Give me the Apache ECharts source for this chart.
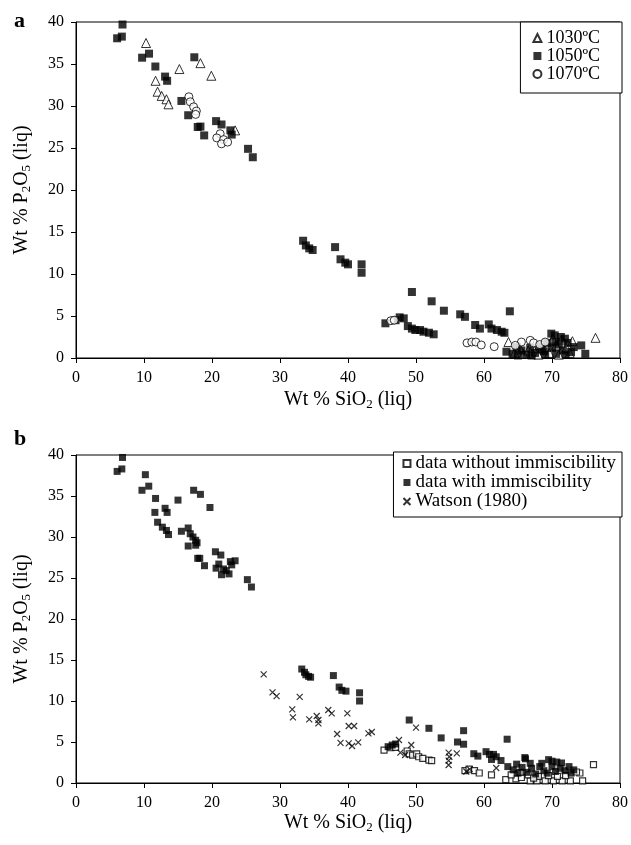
<!DOCTYPE html>
<html>
<head>
<meta charset="utf-8">
<script src="https://cdn.jsdelivr.net/npm/echarts@6/dist/echarts.min.js"></script>
<style>
  html, body { margin: 0; padding: 0; background: #fff; }
  #chart-container { width: 631px; height: 845px; }
</style>
</head>
<body>
<div id="chart-container"></div>
<script>
let dom = document.getElementById("chart-container");
let myChart = echarts.init(dom, null, { renderer: "canvas" });

// Panel a: [SiO2, P2O5] per temperature
const a1030 = [
  [10.3, 37.5], [15.2, 34.4], [18.3, 35.1], [19.9, 33.6], [11.7, 33.0], [12.0, 31.7],
  [12.6, 31.2], [13.3, 30.8], [13.6, 30.2], [23.4, 27.1], [63.6, 1.9], [76.4, 2.4],
  [64.5, 0.6], [65.8, 0.5], [66.5, 0.9], [68.0, 0.4], [69.6, 0.6], [70.1, 2.3],
  [71.4, 2.2], [70.6, 1.5], [72.1, 1.2], [72.6, 0.6], [71.0, 0.4], [67.2, 1.2],
  [73.0, 2.0], [65.2, 1.3]
];
const a1050 = [
  [6.84, 39.7], [6.05, 38.06], [6.74, 38.26], [9.72, 35.75], [10.74, 36.23], [11.67, 34.7],
  [13.1, 33.5], [13.4, 33.0], [17.4, 35.8], [15.5, 30.6], [16.5, 28.9], [17.9, 27.5],
  [18.3, 27.55], [18.85, 26.5], [20.6, 28.2], [21.4, 27.8], [22.7, 27.1], [22.9, 26.6],
  [25.3, 24.9], [26.0, 23.9],
  [33.4, 13.96], [33.8, 13.4], [34.3, 13.05], [34.8, 12.86], [38.1, 13.2], [38.9, 11.75],
  [39.6, 11.35], [40.0, 11.15], [42.0, 11.15], [42.0, 10.15], [49.4, 7.86], [52.3, 6.75],
  [54.1, 5.63], [56.5, 5.2], [45.5, 4.13], [47.0, 4.5], [47.6, 4.84], [48.2, 4.72],
  [48.8, 3.8], [49.4, 3.5], [49.9, 3.33], [50.6, 3.33], [51.1, 3.13], [51.9, 3.01],
  [52.6, 2.82], [57.2, 4.9], [58.7, 3.93], [59.4, 3.5], [60.7, 4.0], [61.1, 3.5],
  [61.9, 3.33], [62.6, 3.13], [63.0, 3.0], [63.8, 5.56],
  [63.3, 0.75], [64.2, 0.5], [64.8, 1.3], [65.5, 0.9], [66.2, 0.4], [66.8, 1.2],
  [67.5, 0.6], [68.1, 1.4], [68.8, 0.8], [69.3, 1.8], [69.9, 2.9], [70.4, 2.7],
  [70.0, 1.2], [70.6, 0.5], [71.0, 1.6], [71.3, 2.5], [71.9, 2.3], [71.6, 0.9],
  [72.3, 1.8], [72.8, 0.7], [73.2, 1.3], [74.3, 1.5], [74.9, 0.5], [65.0, 0.3],
  [67.0, 0.3], [69.0, 0.4], [72.0, 0.4], [68.5, 1.0], [70.5, 1.9]
];
const a1070 = [
  [16.6, 31.1], [16.8, 30.5], [17.3, 29.9], [17.7, 29.4], [17.6, 29.0], [21.2, 26.7],
  [20.7, 26.2], [21.7, 26.0], [21.4, 25.5], [22.3, 25.7], [46.3, 4.44], [46.8, 4.5],
  [57.5, 1.8], [58.2, 1.9], [58.8, 1.9], [59.6, 1.55], [61.5, 1.35], [65.5, 1.9],
  [66.8, 2.1], [67.3, 1.8], [68.2, 1.6], [64.6, 1.5], [69.0, 1.9]
];

// Panel b
const bWithout = [
  [45.3, 4.02], [46.3, 4.3], [47.0, 4.35], [48.7, 3.9], [49.0, 3.54], [49.5, 3.41],
  [50.1, 3.54], [50.4, 3.2], [51.0, 3.0], [51.9, 2.8], [52.3, 2.72], [57.2, 1.5],
  [57.8, 1.7], [58.6, 1.5], [59.3, 1.22], [61.1, 1.0], [63.2, 0.4], [64.7, 0.5],
  [65.5, 0.67], [66.8, 0.27], [67.8, 0.27], [69.0, 0.27], [70.2, 0.27], [71.5, 0.27],
  [72.7, 0.27], [74.1, 1.22], [74.5, 0.27], [76.1, 2.24], [73.6, 1.34], [64.0, 1.0],
  [65.3, 1.3], [66.5, 1.0], [68.0, 0.8], [69.5, 0.9], [70.8, 0.8], [72.0, 0.9], [67.3, 0.6]
];
const bWith = [
  [6.84, 39.7], [6.05, 38.0], [6.74, 38.3], [10.2, 37.6], [9.7, 35.7], [10.7, 36.2],
  [11.7, 34.7], [11.6, 33.0], [13.1, 33.5], [13.4, 33.0], [15.0, 34.5], [17.3, 35.7],
  [18.3, 35.2], [19.7, 33.6], [12.0, 31.8], [12.7, 31.2], [13.3, 30.8], [13.6, 30.3],
  [15.5, 30.7], [16.5, 31.1], [16.8, 30.4], [17.2, 30.0], [17.6, 29.6], [17.8, 29.3],
  [17.6, 29.0], [16.5, 28.9], [17.9, 27.4], [18.2, 27.4], [18.9, 26.5], [20.5, 28.2],
  [21.3, 27.8], [20.6, 26.2], [21.0, 26.7], [21.4, 25.4], [21.7, 26.1], [22.1, 25.9],
  [22.5, 25.5], [22.7, 27.0], [23.4, 27.1], [22.9, 26.6], [25.2, 24.8], [25.8, 23.9],
  [33.2, 13.9], [33.6, 13.5], [33.8, 13.2], [34.2, 13.0], [34.5, 12.9], [37.85, 13.1],
  [38.7, 11.7], [39.1, 11.3], [39.7, 11.2], [41.7, 11.0], [41.7, 10.0], [45.9, 4.43],
  [46.5, 4.63], [47.0, 4.76], [49.0, 7.68], [51.9, 6.67], [53.7, 5.5], [56.1, 5.0],
  [57.0, 6.38], [57.0, 4.73], [58.5, 3.57], [59.1, 3.28], [60.3, 3.82], [60.8, 3.49],
  [61.4, 3.49], [61.8, 3.2], [61.1, 2.87], [62.5, 2.74], [63.4, 5.34], [66.1, 2.95],
  [70.0, 2.66],
  [63.5, 2.0], [64.3, 1.6], [65.0, 1.2], [65.6, 1.9], [66.0, 3.1], [66.3, 1.3],
  [67.0, 1.8], [67.6, 1.1], [68.2, 2.0], [68.8, 1.5], [69.5, 2.85], [69.3, 1.2],
  [70.0, 2.0], [70.7, 2.56], [71.4, 2.44], [70.5, 1.4], [71.2, 1.8], [71.9, 1.5],
  [72.5, 2.0], [72.8, 1.2], [73.2, 1.6], [64.8, 2.3], [66.8, 2.4], [68.5, 2.4]
];
const bWatson = [
  [27.6, 13.25], [28.9, 11.06], [29.5, 10.6], [32.9, 10.5], [31.8, 8.98], [31.9, 8.0],
  [34.3, 7.76], [35.4, 8.17], [35.65, 7.68], [35.65, 7.28], [37.1, 8.9], [37.6, 8.5],
  [39.9, 8.5], [38.4, 5.97], [38.9, 4.9], [40.1, 6.95], [40.9, 6.95], [40.1, 4.84],
  [40.6, 4.51], [41.5, 4.96], [43.0, 6.06], [43.5, 6.22], [47.5, 5.24], [49.3, 4.63],
  [50.0, 6.75], [47.7, 3.7], [48.4, 3.41], [54.8, 3.7], [54.9, 3.2], [54.8, 2.72],
  [54.8, 2.2], [56.0, 3.62], [57.4, 1.4], [57.9, 1.7], [61.8, 1.83]
];

const FONT = "Liberation Serif";
const crossPath = "path://M0,0L10,10M10,0L0,10";

const subRich = {
  base: { fontFamily: FONT, fontSize: 20, color: "#000" },
  sub: { fontFamily: FONT, fontSize: 13, color: "#000", padding: [9, 0, 0, 0] }
};

function xAxisFor(gridIndex) {
  return {
    type: "value",
    gridIndex: gridIndex,
    min: 0,
    max: 80,
    interval: 10,
    name: "{base|Wt % SiO}{sub|2}{base| (liq)}",
    nameLocation: "middle",
    nameGap: gridIndex === 0 ? 31 : 29,
    nameTextStyle: { rich: subRich },
    axisLine: { lineStyle: { color: "#000", width: 1 } },
    axisTick: { length: 5, lineStyle: { color: "#000" } },
    axisLabel: { fontFamily: FONT, fontSize: 16, color: "#000", margin: 12 },
    splitLine: { show: false }
  };
}

function yAxisFor(gridIndex) {
  return {
    type: "value",
    gridIndex: gridIndex,
    min: 0,
    max: 40,
    interval: 5,
    name: "{base|Wt % P}{sub|2}{base|O}{sub|5}{base| (liq)}",
    nameLocation: "middle",
    nameGap: 43,
    nameRotate: 90,
    nameTextStyle: { rich: subRich },
    axisLine: { show: true, lineStyle: { color: "#000", width: 1 } },
    axisTick: { show: true, length: 5, lineStyle: { color: "#000" } },
    axisLabel: { fontFamily: FONT, fontSize: 16, color: "#000", margin: 12 },
    splitLine: { show: false }
  };
}

option = {
  backgroundColor: "#fff",
  animation: false,
  title: [
    { text: "a", left: 9, top: 5, textStyle: { fontFamily: FONT, fontSize: 22, fontWeight: "bold", color: "#000" } },
    { text: "b", left: 9, top: 423, textStyle: { fontFamily: FONT, fontSize: 22, fontWeight: "bold", color: "#000" } }
  ],
  grid: [
    { left: 76, top: 22, right: 9, height: 336, show: true, borderColor: "#000", borderWidth: 1, backgroundColor: "transparent" },
    { left: 76, top: 455, right: 9, height: 328, show: true, borderColor: "#000", borderWidth: 1, backgroundColor: "transparent" }
  ],
  xAxis: [xAxisFor(0), xAxisFor(1)],
  yAxis: [yAxisFor(0), yAxisFor(1)],
  legend: [
    {
      data: ["1030ºC", "1050ºC", "1070ºC"],
      orient: "vertical",
      right: 9,
      top: 22,
      padding: [7, 22, 10, 12],
      itemGap: 0,
      itemWidth: 8,
      itemHeight: 8,
      borderColor: "#000",
      borderWidth: 1,
      backgroundColor: "#fff",
      textStyle: { fontFamily: FONT, fontSize: 18, color: "#000" }
    },
    {
      data: ["data without immiscibility", "data with immiscibility", "Watson (1980)"],
      orient: "vertical",
      right: 9,
      top: 452,
      padding: [2, 6, 6, 9],
      itemGap: 0,
      itemWidth: 7,
      itemHeight: 7,
      borderColor: "#000",
      borderWidth: 1,
      backgroundColor: "#fff",
      textStyle: { fontFamily: FONT, fontSize: 19, color: "#000" }
    }
  ],
  series: [
    {
      name: "1030ºC", type: "scatter", xAxisIndex: 0, yAxisIndex: 0,
      symbol: "triangle", symbolSize: 9,
      itemStyle: { color: "#fff", borderColor: "#000", borderWidth: 1 },
      data: a1030
    },
    {
      name: "1050ºC", type: "scatter", xAxisIndex: 0, yAxisIndex: 0,
      symbol: "rect", symbolSize: 8,
      itemStyle: { color: "#000" },
      data: a1050
    },
    {
      name: "1070ºC", type: "scatter", xAxisIndex: 0, yAxisIndex: 0,
      symbol: "circle", symbolSize: 8,
      itemStyle: { color: "#fff", borderColor: "#000", borderWidth: 1 },
      data: a1070
    },
    {
      name: "data without immiscibility", type: "scatter", xAxisIndex: 1, yAxisIndex: 1,
      symbol: "rect", symbolSize: 6,
      itemStyle: { color: "#fff", borderColor: "#000", borderWidth: 1.2 },
      data: bWithout
    },
    {
      name: "data with immiscibility", type: "scatter", xAxisIndex: 1, yAxisIndex: 1,
      symbol: "rect", symbolSize: 7,
      itemStyle: { color: "#000" },
      data: bWith
    },
    {
      name: "Watson (1980)", type: "scatter", xAxisIndex: 1, yAxisIndex: 1,
      symbol: crossPath, symbolSize: 6,
      itemStyle: { color: "transparent", borderColor: "#000", borderWidth: 1.2 },
      data: bWatson
    }
  ]
};

myChart.setOption(option);
window.addEventListener("resize", myChart.resize);
</script>
</body>
</html>
